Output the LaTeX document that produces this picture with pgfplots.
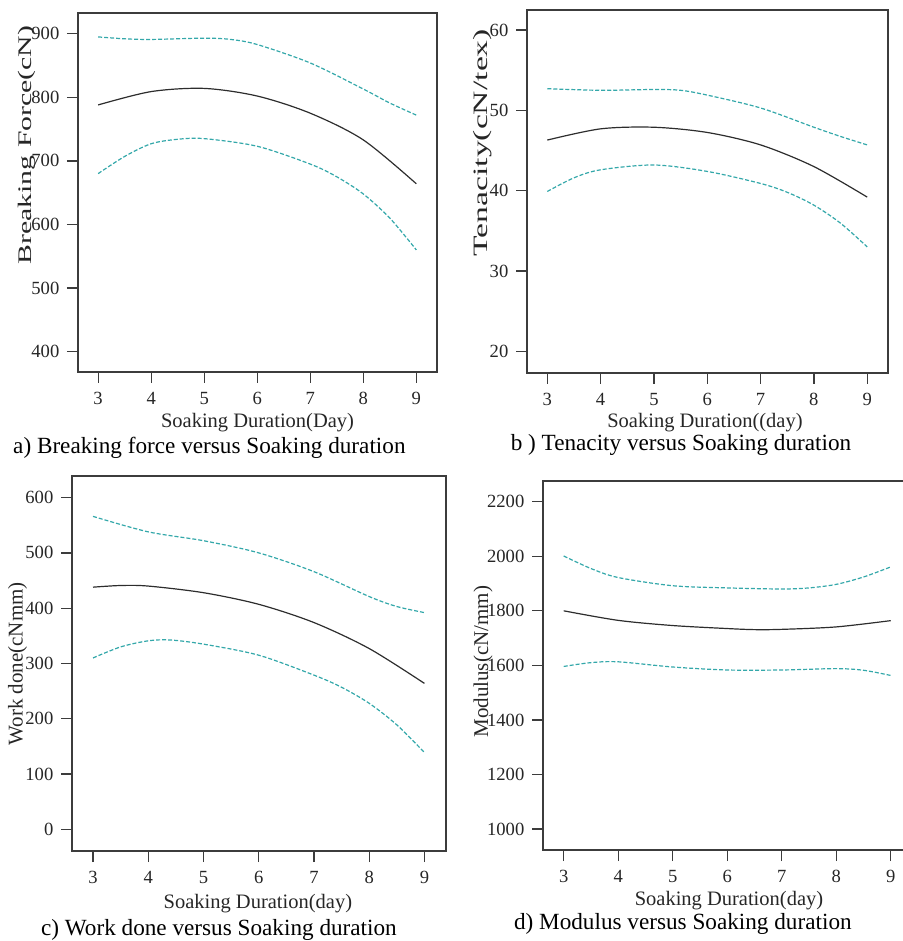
\documentclass[border=0pt]{standalone}
\usepackage{fontspec}
\setmainfont{Liberation Serif}
\usepackage{pgfplots}
\pgfplotsset{compat=1.18}
\definecolor{teal1}{RGB}{52,168,170}
\definecolor{curve}{RGB}{45,45,45}
\definecolor{frame}{RGB}{60,60,60}
\pgfplotsset{
  panel/.style={
    scale only axis,
    anchor=south west,
    xmin=2.62, xmax=9.39,
    xtick={3,4,5,6,7,8,9},
    tick pos=left,
    tick align=outside,
    major tick length=5.5pt,
    axis line style={frame, line width=0.65pt},
    every tick/.style={frame, line width=0.65pt},
    /pgf/number format/assume math mode=true,
    /pgf/number format/1000 sep={},
    tick label style={font=\fontsize{9.3}{10}\selectfont, text=black!85},
    yticklabel style={xshift=-0.3pt},
    xticklabel style={yshift=-1pt},
    label style={font=\fontsize{10.25}{12}\selectfont, text=black!85},
    ylabel style={anchor=center, font=\fontsize{10.5}{12}\selectfont},
    xlabel style={anchor=center, yshift=-3pt},
    clip=false,
  },
  mid/.style={curve, line width=0.6pt, smooth, no markers},
  band/.style={teal1, line width=0.6pt, smooth, no markers, dash pattern=on 2pt off 1pt},
}
\begin{document}
\begin{tikzpicture}
% ---------- a) Breaking force ----------
\begin{axis}[panel, at={(39pt,284.5pt)}, width=179.5pt, height=179.5pt,
  ymin=368, ymax=932.6, ytick={400,500,600,700,800,900},
  xlabel={Soaking Duration(Day)},
  ylabel={\scalebox{1.55}[1]{Breaking Force(cN)}},
  xlabel style={at={(axis description cs:0.5,-0.1253)}},
  ylabel style={at={(axis description cs:-0.142,0.632)}, font=\fontsize{9.6}{11}\selectfont},
]
\addplot[band] coordinates {(3,895) (3.5,892) (4,891) (5,893) (5.5,891) (6,883) (7,854) (8,813) (8.5,791) (9,772)};
\addplot[mid] coordinates {(3,788) (4,809) (5,814) (6,802) (7,775) (8,733) (9,664)};
\addplot[band] coordinates {(3,680) (3.5,707) (4,727) (4.5,734) (5,735) (6,723) (7,695) (7.5,675) (8,648) (8.5,610) (9,560)};
\node[font=\fontsize{11.6}{14}\selectfont, anchor=center] at (axis description cs:0.366,-0.2117) {a) Breaking force versus Soaking duration};
\end{axis}
% ---------- b) Tenacity ----------
\begin{axis}[panel, at={(263.5pt,284pt)}, width=180.5pt, height=181.5pt,
  ymin=17.3, ymax=62.5, ytick={20,30,40,50,60},
  xlabel={Soaking Duration((day)},
  ylabel={\scalebox{1.65}[1]{Tenacity(cN/tex)}},
  xlabel style={at={(axis description cs:0.493,-0.1212)}},
  ylabel style={at={(axis description cs:-0.1219,0.634)}, font=\fontsize{10.2}{11}\selectfont},
]
\addplot[band] coordinates {(3,52.7) (4,52.5) (5,52.6) (5.5,52.5) (6,51.9) (7,50.3) (8,47.9) (8.5,46.75) (9,45.7)};
\addplot[mid] coordinates {(3,46.3) (4,47.7) (5,47.9) (6,47.25) (7,45.7) (8,43.0) (9,39.2)};
\addplot[band] coordinates {(3,39.9) (3.5,41.6) (4,42.6) (5,43.2) (6,42.4) (7,40.9) (7.5,39.8) (8,38.2) (8.5,35.95) (9,33.0)};
\node[font=\fontsize{11.6}{14}\selectfont, anchor=center] at (axis description cs:0.4266,-0.198) {b ) Tenacity versus Soaking duration};
\end{axis}
% ---------- c) Work done ----------
\begin{axis}[panel, at={(36pt,45pt)}, width=187pt, height=187.5pt,
  ymin=-39, ymax=639, ytick={0,100,200,300,400,500,600},
  xlabel={Soaking Duration(day)},
  ylabel={Work done(cNmm)},
  xlabel style={at={(axis description cs:0.497,-0.1253)}},
  ylabel style={at={(axis description cs:-0.1457,0.499)}},
]
\addplot[band] coordinates {(3,566) (4,538) (5,522) (6,500) (7,466) (8,421) (8.5,403) (9,392)};
\addplot[mid] coordinates {(3,438) (3.5,441) (4,440) (5,428) (6,407) (7,374) (8,327) (9,264)};
\addplot[band] coordinates {(3,310) (3.5,330) (4,341) (4.4,342.5) (5,335) (6,315) (7,279) (7.5,257) (8,228) (8.5,189) (9,139)};
\node[font=\fontsize{11.6}{14}\selectfont, anchor=center] at (axis description cs:0.393,-0.2107) {c) Work done versus Soaking duration};
\end{axis}
% ---------- d) Modulus ----------
\begin{axis}[panel, at={(271.5pt,45.5pt)}, width=184.5pt, height=184.5pt,
  ymin=923, ymax=2276, ytick={1000,1200,1400,1600,1800,2000,2200},
  xlabel={Soaking Duration(day)},
  ylabel={Modulus(cN/mm)},
  xlabel style={at={(axis description cs:0.504,-0.122)}},
  ylabel style={at={(axis description cs:-0.1626,0.51)}},
]
\addplot[band] coordinates {(3,2001) (3.5,1955) (4,1922) (5,1892) (6,1884) (7,1880) (7.5,1884) (8,1897) (8.5,1924) (9,1961)};
\addplot[mid] coordinates {(3,1800) (4,1765) (5,1746) (6,1735) (6.5,1731) (7,1732) (8,1741) (9,1764)};
\addplot[band] coordinates {(3,1596) (3.5,1610) (4,1613) (5,1594) (6,1583) (7,1583) (8,1588) (8.5,1582) (9,1563)};
\node[font=\fontsize{11.6}{14}\selectfont, anchor=center] at (axis description cs:0.379,-0.2005) {d) Modulus versus Soaking duration};
\end{axis}
\pgfresetboundingbox
\path[use as bounding box] (0pt,0pt) rectangle (451.5pt,470.5pt);
\end{tikzpicture}
\end{document}
